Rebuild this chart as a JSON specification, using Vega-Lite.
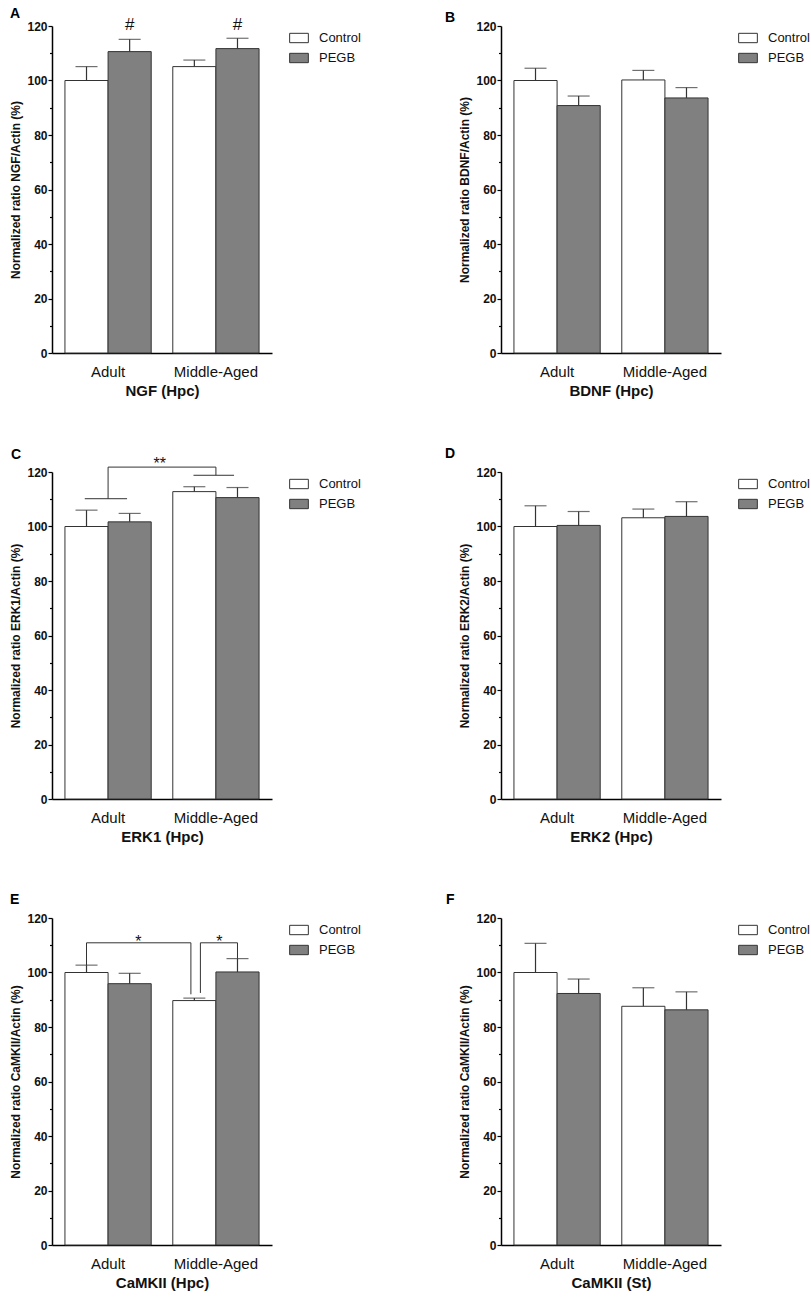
{
  "$schema": "https://vega.github.io/schema/vega-lite/v6.json",
  "background": "white",
  "padding": {"left": 9, "top": 6, "right": 5, "bottom": 5},
  "datasets": {
    "bars": [
      {"panel": "A", "group": "Adult", "treatment": "Control", "value": 100, "hi": 105.1},
      {"panel": "A", "group": "Adult", "treatment": "PEGB", "value": 110.6, "hi": 115.1},
      {"panel": "A", "group": "Middle-Aged", "treatment": "Control", "value": 105.1, "hi": 107.5},
      {"panel": "A", "group": "Middle-Aged", "treatment": "PEGB", "value": 111.7, "hi": 115.5},
      {"panel": "B", "group": "Adult", "treatment": "Control", "value": 100, "hi": 104.5},
      {"panel": "B", "group": "Adult", "treatment": "PEGB", "value": 90.8, "hi": 94.3},
      {"panel": "B", "group": "Middle-Aged", "treatment": "Control", "value": 100.2, "hi": 103.7},
      {"panel": "B", "group": "Middle-Aged", "treatment": "PEGB", "value": 93.6, "hi": 97.4},
      {"panel": "C", "group": "Adult", "treatment": "Control", "value": 100, "hi": 106},
      {"panel": "C", "group": "Adult", "treatment": "PEGB", "value": 101.7, "hi": 104.8},
      {"panel": "C", "group": "Middle-Aged", "treatment": "Control", "value": 112.8, "hi": 114.6},
      {"panel": "C", "group": "Middle-Aged", "treatment": "PEGB", "value": 110.6, "hi": 114.3},
      {"panel": "D", "group": "Adult", "treatment": "Control", "value": 100, "hi": 107.6},
      {"panel": "D", "group": "Adult", "treatment": "PEGB", "value": 100.4, "hi": 105.5},
      {"panel": "D", "group": "Middle-Aged", "treatment": "Control", "value": 103.2, "hi": 106.4},
      {"panel": "D", "group": "Middle-Aged", "treatment": "PEGB", "value": 103.7, "hi": 109.1},
      {"panel": "E", "group": "Adult", "treatment": "Control", "value": 100, "hi": 102.7},
      {"panel": "E", "group": "Adult", "treatment": "PEGB", "value": 95.9, "hi": 99.7},
      {"panel": "E", "group": "Middle-Aged", "treatment": "Control", "value": 89.7, "hi": 90.6},
      {"panel": "E", "group": "Middle-Aged", "treatment": "PEGB", "value": 100.2, "hi": 105.1},
      {"panel": "F", "group": "Adult", "treatment": "Control", "value": 100, "hi": 110.7},
      {"panel": "F", "group": "Adult", "treatment": "PEGB", "value": 92.3, "hi": 97.6},
      {"panel": "F", "group": "Middle-Aged", "treatment": "Control", "value": 87.6, "hi": 94.4},
      {"panel": "F", "group": "Middle-Aged", "treatment": "PEGB", "value": 86.3, "hi": 92.9}
    ]
  },
  "data": {"name": "bars"},
  "columns": 2,
  "bounds": "flush",
  "spacing": {"row": 119, "column": 229},
  "resolve": {"legend": {"color": "independent"}},
  "concat": [
    {
      "title": {"text": "A", "dx": -42, "offset": -5},
      "width": 220, "height": 327,
      "transform": [{"filter": "datum.panel === 'A'"}],
      "resolve": {"axis": {"y": "independent"}},
      "layer": [
        {
          "mark": {"type": "bar", "stroke": "#333", "strokeWidth": 1},
          "encoding": {
            "x": {"field": "group", "type": "nominal", "sort": null, "title": "NGF (Hpc)", "scale": {"paddingInner": 0.2, "paddingOuter": 0.12}},
            "xOffset": {"field": "treatment", "type": "nominal", "scale": {"domain": ["Control", "PEGB"], "paddingInner": 0, "paddingOuter": 0}},
            "y": {"field": "value", "type": "quantitative", "title": "Normalized ratio NGF/Actin (%)", "scale": {"domain": [0, 120], "nice": false}, "axis": {"values": [0, 20, 40, 60, 80, 100, 120]}},
            "color": {"field": "treatment", "type": "nominal", "scale": {"domain": ["Control", "PEGB"], "range": ["#ffffff", "#808080"]}, "legend": {"title": null}}
          }
        },
        {
          "mark": {"type": "rule", "color": "#333", "strokeWidth": 1.2},
          "encoding": {
            "x": {"field": "group", "type": "nominal", "sort": null},
            "xOffset": {"field": "treatment", "type": "nominal"},
            "y": {"field": "value", "type": "quantitative", "axis": null},
            "y2": {"field": "hi"}
          }
        },
        {
          "mark": {"type": "tick", "orient": "horizontal", "size": 22, "thickness": 1.2, "color": "#333"},
          "encoding": {
            "x": {"field": "group", "type": "nominal", "sort": null},
            "xOffset": {"field": "treatment", "type": "nominal"},
            "y": {"field": "hi", "type": "quantitative", "axis": {"values": [10, 30, 50, 70, 90, 110], "labels": false, "domain": false, "tickSize": 2.5, "title": null, "orient": "left"}}
          }
        },
        {
          "data": {"values": [{"group": "Adult"}, {"group": "Middle-Aged"}]},
          "mark": {"type": "text", "text": "#", "fontSize": 17, "baseline": "middle", "color": "#111"},
          "encoding": {
            "x": {"field": "group", "type": "nominal", "sort": null, "bandPosition": 0.75},
            "y": {"datum": 120.5, "axis": null}
          }
        }
      ]
    },
    {
      "title": {"text": "B", "dx": -56, "offset": -5},
      "width": 220, "height": 327,
      "transform": [{"filter": "datum.panel === 'B'"}],
      "resolve": {"axis": {"y": "independent"}},
      "layer": [
        {
          "mark": {"type": "bar", "stroke": "#333", "strokeWidth": 1},
          "encoding": {
            "x": {"field": "group", "type": "nominal", "sort": null, "title": "BDNF (Hpc)", "scale": {"paddingInner": 0.2, "paddingOuter": 0.12}},
            "xOffset": {"field": "treatment", "type": "nominal", "scale": {"domain": ["Control", "PEGB"], "paddingInner": 0, "paddingOuter": 0}},
            "y": {"field": "value", "type": "quantitative", "title": "Normalized ratio BDNF/Actin (%)", "scale": {"domain": [0, 120], "nice": false}, "axis": {"values": [0, 20, 40, 60, 80, 100, 120]}},
            "color": {"field": "treatment", "type": "nominal", "scale": {"domain": ["Control", "PEGB"], "range": ["#ffffff", "#808080"]}, "legend": {"title": null}}
          }
        },
        {
          "mark": {"type": "rule", "color": "#333", "strokeWidth": 1.2},
          "encoding": {
            "x": {"field": "group", "type": "nominal", "sort": null},
            "xOffset": {"field": "treatment", "type": "nominal"},
            "y": {"field": "value", "type": "quantitative", "axis": null},
            "y2": {"field": "hi"}
          }
        },
        {
          "mark": {"type": "tick", "orient": "horizontal", "size": 22, "thickness": 1.2, "color": "#333"},
          "encoding": {
            "x": {"field": "group", "type": "nominal", "sort": null},
            "xOffset": {"field": "treatment", "type": "nominal"},
            "y": {"field": "hi", "type": "quantitative", "axis": {"values": [10, 30, 50, 70, 90, 110], "labels": false, "domain": false, "tickSize": 2.5, "title": null, "orient": "left"}}
          }
        }
      ]
    },
    {
      "title": {"text": "C", "dx": -41, "offset": -6},
      "width": 220, "height": 327,
      "transform": [{"filter": "datum.panel === 'C'"}],
      "resolve": {"axis": {"y": "independent"}},
      "layer": [
        {
          "mark": {"type": "bar", "stroke": "#333", "strokeWidth": 1},
          "encoding": {
            "x": {"field": "group", "type": "nominal", "sort": null, "title": "ERK1 (Hpc)", "scale": {"paddingInner": 0.2, "paddingOuter": 0.12}},
            "xOffset": {"field": "treatment", "type": "nominal", "scale": {"domain": ["Control", "PEGB"], "paddingInner": 0, "paddingOuter": 0}},
            "y": {"field": "value", "type": "quantitative", "title": "Normalized ratio ERK1/Actin (%)", "scale": {"domain": [0, 120], "nice": false}, "axis": {"values": [0, 20, 40, 60, 80, 100, 120]}},
            "color": {"field": "treatment", "type": "nominal", "scale": {"domain": ["Control", "PEGB"], "range": ["#ffffff", "#808080"]}, "legend": {"title": null}}
          }
        },
        {
          "mark": {"type": "rule", "color": "#333", "strokeWidth": 1.2},
          "encoding": {
            "x": {"field": "group", "type": "nominal", "sort": null},
            "xOffset": {"field": "treatment", "type": "nominal"},
            "y": {"field": "value", "type": "quantitative", "axis": null},
            "y2": {"field": "hi"}
          }
        },
        {
          "mark": {"type": "tick", "orient": "horizontal", "size": 22, "thickness": 1.2, "color": "#333"},
          "encoding": {
            "x": {"field": "group", "type": "nominal", "sort": null},
            "xOffset": {"field": "treatment", "type": "nominal"},
            "y": {"field": "hi", "type": "quantitative", "axis": {"values": [10, 30, 50, 70, 90, 110], "labels": false, "domain": false, "tickSize": 2.5, "title": null, "orient": "left"}}
          }
        },
        {
          "data": {"values": [{}]},
          "mark": {"type": "rule", "color": "#333", "strokeWidth": 1},
          "encoding": {
            "x": {"datum": "Adult", "bandPosition": 0.23},
            "x2": {"datum": "Adult", "bandPosition": 0.72},
            "y": {"datum": 110.2, "axis": null}
          }
        },
        {
          "data": {"values": [{}]},
          "mark": {"type": "rule", "color": "#333", "strokeWidth": 1},
          "encoding": {
            "x": {"datum": "Adult", "bandPosition": 0.5},
            "y": {"datum": 110.2, "axis": null},
            "y2": {"datum": 121.8}
          }
        },
        {
          "data": {"values": [{}]},
          "mark": {"type": "rule", "color": "#333", "strokeWidth": 1},
          "encoding": {
            "x": {"datum": "Adult", "bandPosition": 0.5},
            "x2": {"datum": "Middle-Aged", "bandPosition": 0.5},
            "y": {"datum": 121.8, "axis": null}
          }
        },
        {
          "data": {"values": [{}]},
          "mark": {"type": "rule", "color": "#333", "strokeWidth": 1},
          "encoding": {
            "x": {"datum": "Middle-Aged", "bandPosition": 0.5},
            "y": {"datum": 118.8, "axis": null},
            "y2": {"datum": 121.8}
          }
        },
        {
          "data": {"values": [{}]},
          "mark": {"type": "rule", "color": "#333", "strokeWidth": 1},
          "encoding": {
            "x": {"datum": "Middle-Aged", "bandPosition": 0.24},
            "x2": {"datum": "Middle-Aged", "bandPosition": 0.71},
            "y": {"datum": 118.8, "axis": null}
          }
        },
        {
          "data": {"values": [{}]},
          "mark": {"type": "text", "text": "**", "fontSize": 16, "baseline": "alphabetic", "color": "#111"},
          "encoding": {
            "x": {"datum": "Adult", "bandPosition": 1.1},
            "y": {"datum": 121.2, "axis": null}
          }
        }
      ]
    },
    {
      "title": {"text": "D", "dx": -56, "offset": 5},
      "width": 220, "height": 327,
      "transform": [{"filter": "datum.panel === 'D'"}],
      "resolve": {"axis": {"y": "independent"}},
      "layer": [
        {
          "mark": {"type": "bar", "stroke": "#333", "strokeWidth": 1},
          "encoding": {
            "x": {"field": "group", "type": "nominal", "sort": null, "title": "ERK2 (Hpc)", "scale": {"paddingInner": 0.2, "paddingOuter": 0.12}},
            "xOffset": {"field": "treatment", "type": "nominal", "scale": {"domain": ["Control", "PEGB"], "paddingInner": 0, "paddingOuter": 0}},
            "y": {"field": "value", "type": "quantitative", "title": "Normalized ratio ERK2/Actin (%)", "scale": {"domain": [0, 120], "nice": false}, "axis": {"values": [0, 20, 40, 60, 80, 100, 120]}},
            "color": {"field": "treatment", "type": "nominal", "scale": {"domain": ["Control", "PEGB"], "range": ["#ffffff", "#808080"]}, "legend": {"title": null}}
          }
        },
        {
          "mark": {"type": "rule", "color": "#333", "strokeWidth": 1.2},
          "encoding": {
            "x": {"field": "group", "type": "nominal", "sort": null},
            "xOffset": {"field": "treatment", "type": "nominal"},
            "y": {"field": "value", "type": "quantitative", "axis": null},
            "y2": {"field": "hi"}
          }
        },
        {
          "mark": {"type": "tick", "orient": "horizontal", "size": 22, "thickness": 1.2, "color": "#333"},
          "encoding": {
            "x": {"field": "group", "type": "nominal", "sort": null},
            "xOffset": {"field": "treatment", "type": "nominal"},
            "y": {"field": "hi", "type": "quantitative", "axis": {"values": [10, 30, 50, 70, 90, 110], "labels": false, "domain": false, "tickSize": 2.5, "title": null, "orient": "left"}}
          }
        }
      ]
    },
    {
      "title": {"text": "E", "dx": -42, "offset": 5},
      "width": 220, "height": 327,
      "transform": [{"filter": "datum.panel === 'E'"}],
      "resolve": {"axis": {"y": "independent"}},
      "layer": [
        {
          "mark": {"type": "bar", "stroke": "#333", "strokeWidth": 1},
          "encoding": {
            "x": {"field": "group", "type": "nominal", "sort": null, "title": "CaMKII (Hpc)", "scale": {"paddingInner": 0.2, "paddingOuter": 0.12}},
            "xOffset": {"field": "treatment", "type": "nominal", "scale": {"domain": ["Control", "PEGB"], "paddingInner": 0, "paddingOuter": 0}},
            "y": {"field": "value", "type": "quantitative", "title": "Normalized ratio CaMKII/Actin (%)", "scale": {"domain": [0, 120], "nice": false}, "axis": {"values": [0, 20, 40, 60, 80, 100, 120]}},
            "color": {"field": "treatment", "type": "nominal", "scale": {"domain": ["Control", "PEGB"], "range": ["#ffffff", "#808080"]}, "legend": {"title": null}}
          }
        },
        {
          "mark": {"type": "rule", "color": "#333", "strokeWidth": 1.2},
          "encoding": {
            "x": {"field": "group", "type": "nominal", "sort": null},
            "xOffset": {"field": "treatment", "type": "nominal"},
            "y": {"field": "value", "type": "quantitative", "axis": null},
            "y2": {"field": "hi"}
          }
        },
        {
          "mark": {"type": "tick", "orient": "horizontal", "size": 22, "thickness": 1.2, "color": "#333"},
          "encoding": {
            "x": {"field": "group", "type": "nominal", "sort": null},
            "xOffset": {"field": "treatment", "type": "nominal"},
            "y": {"field": "hi", "type": "quantitative", "axis": {"values": [10, 30, 50, 70, 90, 110], "labels": false, "domain": false, "tickSize": 2.5, "title": null, "orient": "left"}}
          }
        },
        {
          "data": {"values": [{}]},
          "mark": {"type": "rule", "color": "#333", "strokeWidth": 1},
          "encoding": {
            "x": {"datum": "Adult", "bandPosition": 0.25},
            "y": {"datum": 102.7, "axis": null},
            "y2": {"datum": 110.9}
          }
        },
        {
          "data": {"values": [{}]},
          "mark": {"type": "rule", "color": "#333", "strokeWidth": 1},
          "encoding": {
            "x": {"datum": "Adult", "bandPosition": 0.25},
            "x2": {"datum": "Middle-Aged", "bandPosition": 0.21},
            "y": {"datum": 110.9, "axis": null}
          }
        },
        {
          "data": {"values": [{}]},
          "mark": {"type": "rule", "color": "#333", "strokeWidth": 1},
          "encoding": {
            "x": {"datum": "Middle-Aged", "bandPosition": 0.21},
            "y": {"datum": 92, "axis": null},
            "y2": {"datum": 110.9}
          }
        },
        {
          "data": {"values": [{}]},
          "mark": {"type": "rule", "color": "#333", "strokeWidth": 1},
          "encoding": {
            "x": {"datum": "Middle-Aged", "bandPosition": 0.32},
            "y": {"datum": 92.5, "axis": null},
            "y2": {"datum": 110.9}
          }
        },
        {
          "data": {"values": [{}]},
          "mark": {"type": "rule", "color": "#333", "strokeWidth": 1},
          "encoding": {
            "x": {"datum": "Middle-Aged", "bandPosition": 0.32},
            "x2": {"datum": "Middle-Aged", "bandPosition": 0.75},
            "y": {"datum": 110.9, "axis": null}
          }
        },
        {
          "data": {"values": [{}]},
          "mark": {"type": "rule", "color": "#333", "strokeWidth": 1},
          "encoding": {
            "x": {"datum": "Middle-Aged", "bandPosition": 0.75},
            "y": {"datum": 105.1, "axis": null},
            "y2": {"datum": 110.9}
          }
        },
        {
          "data": {"values": [{}]},
          "mark": {"type": "text", "text": "*", "fontSize": 16, "baseline": "alphabetic", "color": "#111"},
          "encoding": {
            "x": {"datum": "Adult", "bandPosition": 0.85},
            "y": {"datum": 109.4, "axis": null}
          }
        },
        {
          "data": {"values": [{}]},
          "mark": {"type": "text", "text": "*", "fontSize": 16, "baseline": "alphabetic", "color": "#111"},
          "encoding": {
            "x": {"datum": "Middle-Aged", "bandPosition": 0.54},
            "y": {"datum": 109.4, "axis": null}
          }
        }
      ]
    },
    {
      "title": {"text": "F", "dx": -55, "offset": 5},
      "width": 220, "height": 327,
      "transform": [{"filter": "datum.panel === 'F'"}],
      "resolve": {"axis": {"y": "independent"}},
      "layer": [
        {
          "mark": {"type": "bar", "stroke": "#333", "strokeWidth": 1},
          "encoding": {
            "x": {"field": "group", "type": "nominal", "sort": null, "title": "CaMKII (St)", "scale": {"paddingInner": 0.2, "paddingOuter": 0.12}},
            "xOffset": {"field": "treatment", "type": "nominal", "scale": {"domain": ["Control", "PEGB"], "paddingInner": 0, "paddingOuter": 0}},
            "y": {"field": "value", "type": "quantitative", "title": "Normalized ratio CaMKII/Actin (%)", "scale": {"domain": [0, 120], "nice": false}, "axis": {"values": [0, 20, 40, 60, 80, 100, 120]}},
            "color": {"field": "treatment", "type": "nominal", "scale": {"domain": ["Control", "PEGB"], "range": ["#ffffff", "#808080"]}, "legend": {"title": null}}
          }
        },
        {
          "mark": {"type": "rule", "color": "#333", "strokeWidth": 1.2},
          "encoding": {
            "x": {"field": "group", "type": "nominal", "sort": null},
            "xOffset": {"field": "treatment", "type": "nominal"},
            "y": {"field": "value", "type": "quantitative", "axis": null},
            "y2": {"field": "hi"}
          }
        },
        {
          "mark": {"type": "tick", "orient": "horizontal", "size": 22, "thickness": 1.2, "color": "#333"},
          "encoding": {
            "x": {"field": "group", "type": "nominal", "sort": null},
            "xOffset": {"field": "treatment", "type": "nominal"},
            "y": {"field": "hi", "type": "quantitative", "axis": {"values": [10, 30, 50, 70, 90, 110], "labels": false, "domain": false, "tickSize": 2.5, "title": null, "orient": "left"}}
          }
        }
      ]
    }
  ],
  "config": {
    "font": "Liberation Sans",
    "view": {"stroke": null},
    "title": {"fontSize": 14, "fontWeight": "bold", "anchor": "start", "frame": "group", "color": "#000", "font": "Liberation Sans"},
    "axis": {
      "domainColor": "#000",
      "domainWidth": 1.5,
      "tickColor": "#000",
      "tickWidth": 1.2,
      "grid": false,
      "labelColor": "#111",
      "titleColor": "#111",
      "labelFont": "Liberation Sans",
      "titleFont": "Liberation Sans"
    },
    "axisY": {
      "tickSize": 4,
      "labelFontSize": 12,
      "labelFontWeight": "bold",
      "labelPadding": 1,
      "titleFontSize": 12,
      "titleFontWeight": "bold",
      "titlePadding": 4
    },
    "axisX": {
      "ticks": false,
      "labelAngle": 0,
      "labelFontSize": 15,
      "labelPadding": 11,
      "titleFontSize": 15,
      "titleFontWeight": "bold",
      "titlePadding": 4
    },
    "legend": {
      "orient": "right",
      "offset": 15,
      "padding": 2,
      "symbolType": "M-1,-0.5H1V0.5H-1Z",
      "symbolSize": 350,
      "symbolStrokeColor": "#333",
      "symbolStrokeWidth": 1,
      "symbolOpacity": 1,
      "labelFontSize": 13,
      "labelFont": "Liberation Sans",
      "labelColor": "#111",
      "labelOffset": 10,
      "rowPadding": 3
    }
  }
}
